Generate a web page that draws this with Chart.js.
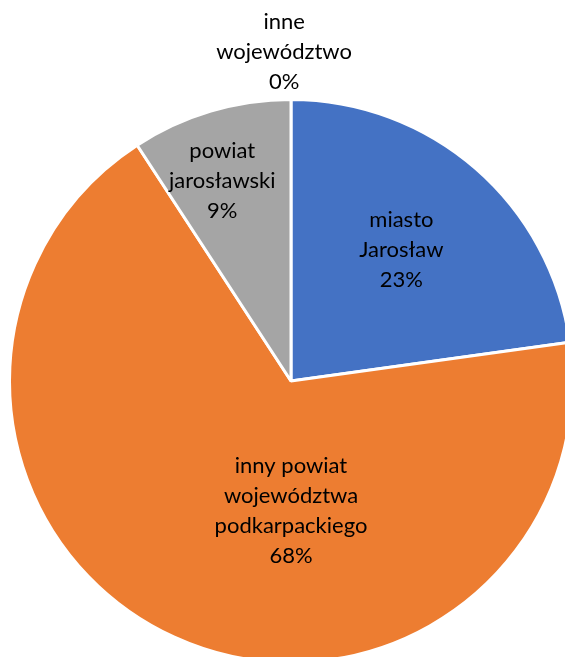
<!DOCTYPE html>
<html>
<head>
<meta charset="utf-8">
<script src="https://cdn.jsdelivr.net/npm/chart.js@4.4.0/dist/chart.umd.min.js"></script>
<style>
html,body{margin:0;padding:0;background:#fff;overflow:hidden;width:565px;height:657px;}
#wrap{position:absolute;left:0;top:0;width:600px;height:720px;}
</style>
</head>
<body>
<div id="wrap"><canvas id="c" width="600" height="720"></canvas></div>
<script>
const categories = [["miasto", "Jarosław"], ["inny powiat", "województwa", "podkarpackiego"], ["powiat", "jarosławski"], ["inne", "województwo"]];
const values = [22.8, 68.0, 9.2, 0.0];
const colors = ["#4472C4", "#ED7D31", "#A5A5A5", "#FFC000"];

// label placement: fraction of radius and angle (deg, clockwise from top)
const labelPlacement = [
  {r: 0.61, angle: 40},
  {r: 0.46, angle: 180},
  {r: 0.75, angle: -19},
  {r: 1.17, angle: -1.2}
];

const labelPlugin = {
  id: 'sliceLabels',
  afterDatasetsDraw(chart) {
    const ctx = chart.ctx;
    const meta = chart.getDatasetMeta(0);
    const total = values.reduce((a, b) => a + b, 0);
    ctx.save();
    ctx.font = '22px Lato, "Open Sans", sans-serif';
    ctx.fillStyle = '#000';
    ctx.textAlign = 'center';
    ctx.textBaseline = 'middle';
    const lh = 30;
    meta.data.forEach((arc, i) => {
      const p = labelPlacement[i];
      const ang = (p.angle - 90) * Math.PI / 180;
      const R = arc.outerRadius * p.r;
      const cx = arc.x + Math.cos(ang) * R;
      const cy = arc.y + Math.sin(ang) * R;
      const lines = categories[i].concat([Math.round(values[i] / total * 100) + '%']);
      const y0 = cy - (lines.length - 1) * lh / 2;
      lines.forEach((t, k) => ctx.fillText(t, cx, y0 + k * lh));
    });
    ctx.restore();
  }
};

new Chart(document.getElementById('c'), {
  type: 'pie',
  data: {
    labels: categories.map(c => c.join(' ')),
    datasets: [{
      data: values,
      backgroundColor: colors,
      borderColor: '#ffffff',
      borderWidth: 3
    }]
  },
  options: {
    responsive: false,
    animation: false,
    events: [],
    layout: {padding: {left: 8, top: 98, right: 26, bottom: 56}},
    plugins: {legend: {display: false}, tooltip: {enabled: false}}
  },
  plugins: [labelPlugin]
});
</script>
</body>
</html>
